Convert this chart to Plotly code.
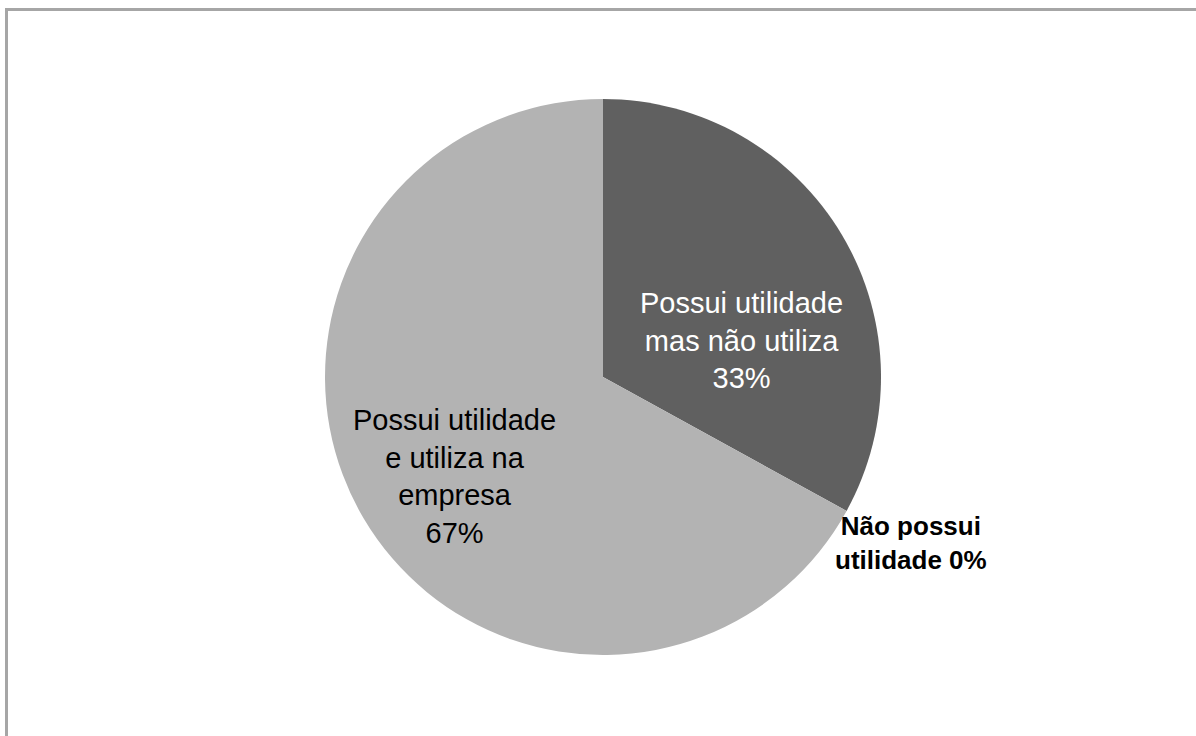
import plotly.graph_objects as go

# Survey answers, in clockwise order starting at 12 o'clock
categories = [
    "Possui utilidade<br>mas não utiliza",
    "Não possui<br>utilidade",
    "Possui utilidade<br>e utiliza na<br>empresa",
]
values = [33, 0, 67]
slice_colors = ["#606060", "#ffffff", "#b3b3b3"]

W, H = 1196, 736
cx, cy, r = 603, 377, 278  # pie centre and radius in pixels

fig = go.Figure(
    go.Pie(
        labels=categories,
        values=values,
        sort=False,
        direction="clockwise",
        rotation=0,
        marker=dict(colors=slice_colors, line=dict(width=0)),
        textinfo="none",
        hoverinfo="label+percent",
        showlegend=False,
        domain=dict(
            x=[(cx - r) / W, (cx + r) / W],
            y=[(H - cy - r) / H, (H - cy + r) / H],
        ),
    )
)

total = sum(values)
pct = [f"{round(v / total * 100)}%" for v in values]


def px(x, y):
    return x / W, (H - y) / H


def label(x, y, text, size, color):
    ax, ay = px(x, y)
    return dict(
        x=ax, y=ay, xref="paper", yref="paper", showarrow=False,
        xanchor="center", yanchor="middle", align="center",
        text=text,
        font=dict(family="Liberation Sans, Arial", size=size, color=color),
    )


annotations = [
    # dark slice (white text)
    label(741, 340, f"{categories[0]}<br>{pct[0]}", 29, "#ffffff"),
    # light slice (black text)
    label(454, 476, f"{categories[2]}<br>{pct[2]}", 29, "#000000"),
    # zero-size slice, labelled just outside the pie
    label(911, 543,
          "<br>".join(f"<b>{part}</b>" for part in f"{categories[1]} {pct[1]}".split("<br>")),
          26, "#000000"),
]

fig.update_layout(
    width=W,
    height=H,
    margin=dict(l=0, r=0, t=0, b=0),
    paper_bgcolor="#ffffff",
    plot_bgcolor="#ffffff",
    annotations=annotations,
    shapes=[dict(
        type="rect", xref="paper", yref="paper",
        x0=6.5 / W, x1=1.05, y0=(H - 9.5) / H, y1=-0.05,
        line=dict(color="#a6a6a6", width=3),
        fillcolor="rgba(0,0,0,0)",
    )],
)

fig.write_html("out.html")
